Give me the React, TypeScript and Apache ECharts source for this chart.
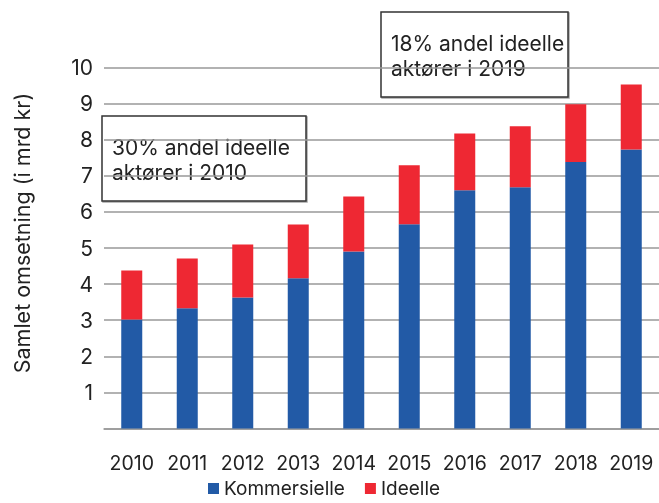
import React, { useEffect, useRef } from "react";
import * as echarts from "echarts";

const years = ["2010", "2011", "2012", "2013", "2014", "2015", "2016", "2017", "2018", "2019"];
const kommersielle = [3.02, 3.33, 3.63, 4.16, 4.9, 5.66, 6.6, 6.68, 7.38, 7.73];
const ideelleTotal = [4.38, 4.71, 5.1, 5.65, 6.43, 7.29, 8.17, 8.37, 8.98, 9.53];
const ideelle = ideelleTotal.map((t, i) => +(t - kommersielle[i]).toFixed(2));
const yTicks = [0, 1, 2, 3, 4, 5, 6, 7, 8, 9, 10];
const yName = "Samlet omsetning (i mrd kr)";
const note2010 = ["30% andel ideelle", "aktører i 2010"];
const note2019 = ["18% andel ideelle", "aktører i 2019"];

const FONT = "Inter";
const TXT = "#222222";

export default function App() {
  const ref = useRef<HTMLDivElement>(null);
  useEffect(() => {
    if (!ref.current) return;
    const chart = echarts.init(ref.current, undefined, { renderer: "svg" });
    const box = (x: number, y: number, w: number, h: number, lines: string[]) => ({
      type: "group",
      z: 100,
      children: [
        {
          type: "rect",
          shape: { x, y, width: w, height: h },
          style: {
            fill: "#fff",
            stroke: "#333",
            lineWidth: 1.5,
            shadowColor: "rgba(0,0,0,0.35)",
            shadowBlur: 1,
            shadowOffsetX: 1,
            shadowOffsetY: 1,
          },
        },
        ...lines.map((t, i) => ({
          type: "text",
          x: x + 10,
          y: y + 31 + i * 25,
          style: {
            text: t,
            fontFamily: FONT,
            fontSize: 21,
            fill: TXT,
            textAlign: "left",
            textVerticalAlign: "middle",
          },
        })),
      ],
    });
    chart.setOption({
      animation: false,
      textStyle: { fontFamily: FONT },
      grid: { left: 104, right: -3, top: 67.5, bottom: 74.5, containLabel: false },
      legend: {
        left: 208,
        top: 479,
        padding: 0,
        itemWidth: 11,
        itemHeight: 11,
        itemGap: 20,
        icon: "rect",
        textStyle: { fontFamily: FONT, fontSize: 19, color: TXT, padding: [0, 0, 0, 0] },
        data: ["Kommersielle", "Ideelle"],
      },
      xAxis: {
        type: "category",
        data: years,
        axisLine: { lineStyle: { color: "#999", width: 1.5 } },
        axisTick: { show: false },
        axisLabel: { fontFamily: FONT, fontSize: 19.5, color: TXT, margin: 24, interval: 0 },
      },
      yAxis: {
        type: "value",
        min: yTicks[0],
        max: yTicks[yTicks.length - 1],
        interval: 1,
        axisLine: { show: false },
        axisTick: { show: false },
        splitLine: { lineStyle: { color: "#999", width: 1.5 } },
        axisLabel: {
          fontFamily: FONT,
          fontSize: 21,
          color: TXT,
          margin: 11,
          formatter: (v: number) => (v === 0 ? "" : String(v)),
        },
      },
      graphic: [
        {
          type: "text",
          x: 22,
          y: 233,
          rotation: Math.PI / 2,
          style: {
            text: yName,
            fontFamily: FONT,
            fontSize: 21.5,
            fill: TXT,
            textAlign: "center",
            textVerticalAlign: "middle",
          },
        },
        box(102, 116, 204, 85, note2010),
        box(381, 12, 187, 85, note2019),
      ],
      series: [
        {
          name: "Kommersielle",
          type: "bar",
          stack: "total",
          data: kommersielle,
          barWidth: 21,
          itemStyle: { color: "#225AA6" },
        },
        {
          name: "Ideelle",
          type: "bar",
          stack: "total",
          data: ideelle,
          barWidth: 21,
          itemStyle: { color: "#EE2833" },
        },
      ],
    });
    return () => chart.dispose();
  }, []);
  return <div ref={ref} style={{ position: "fixed", left: 0, top: 0, width: 659, height: 503 }} />;
}
